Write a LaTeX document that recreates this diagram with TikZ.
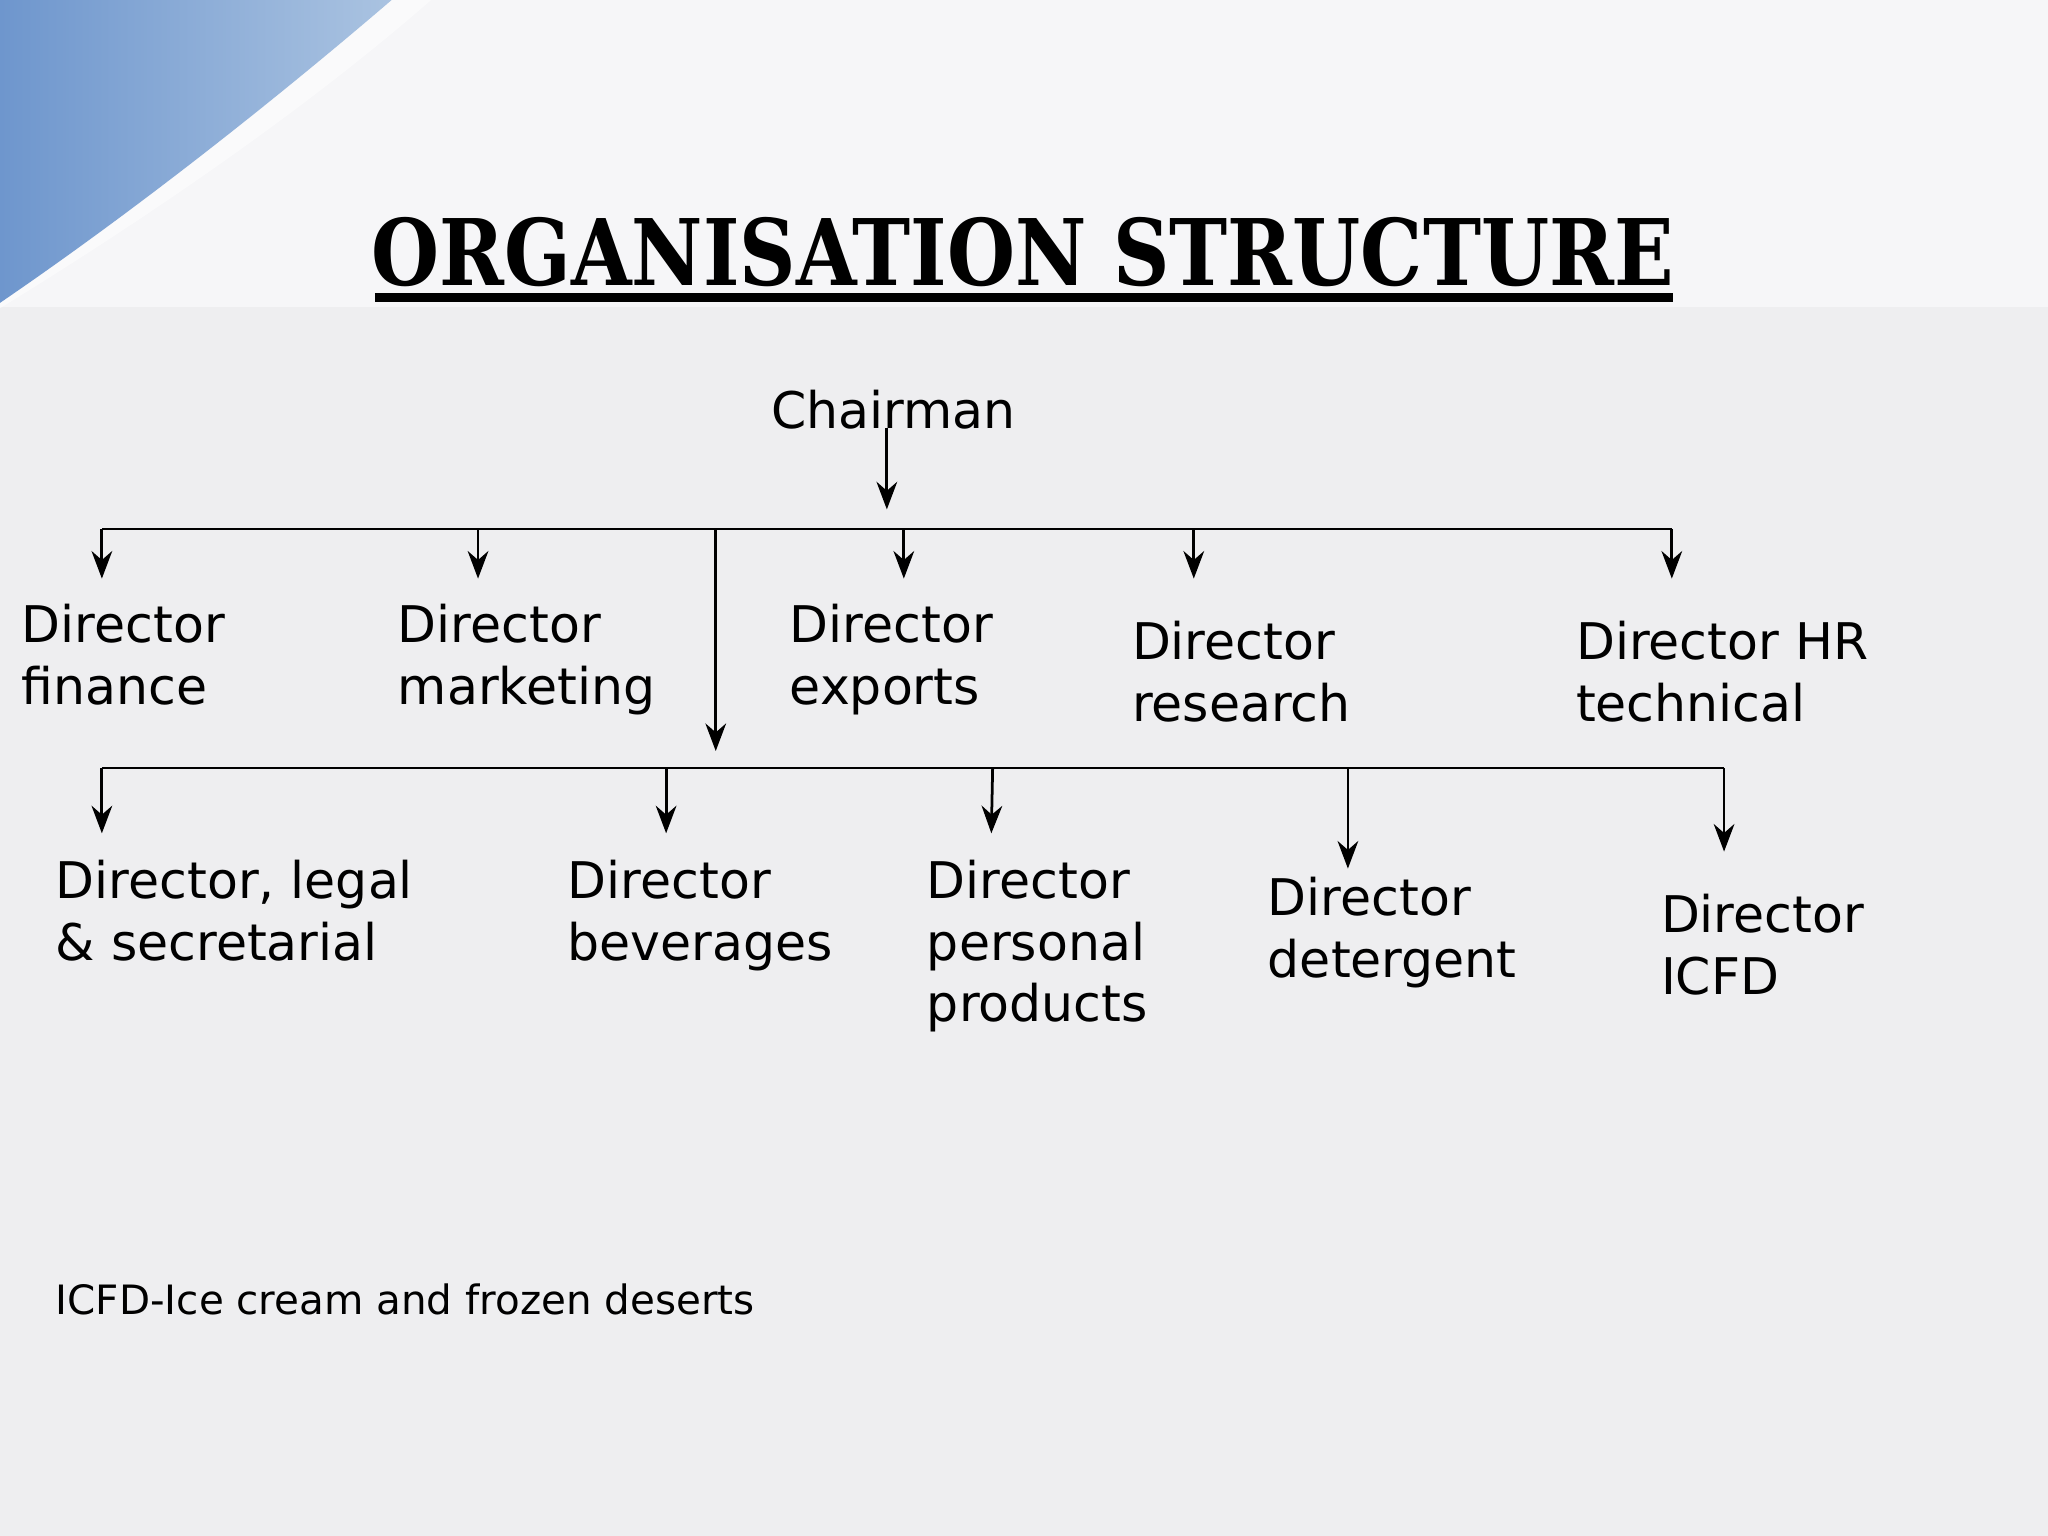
\documentclass[tikz,border=0pt]{standalone}
\usepackage{fontspec}
\setmainfont{DejaVu Sans}
\newfontfamily\titlefont{DejaVu Serif}
\usetikzlibrary{arrows.meta}
\begin{document}
\begin{tikzpicture}[x=0.01cm,y=-0.01cm,
  lbl/.style={anchor=north west,inner sep=0pt,align=left,font=\fontsize{11}{13.4}\selectfont},
  arr/.style={-{Stealth[length=6pt,width=4.5pt]},line width=0.6pt},
  ln/.style={line width=0.6pt}]
\fill[color={rgb,255:red,238;green,238;blue,240}] (0,0) rectangle (1568,1176);
\fill[color={rgb,255:red,246;green,246;blue,248}] (0,0) rectangle (1568,235);
\shade[left color={rgb,255:red,110;green,150;blue,205},right color={rgb,255:red,170;green,195;blue,225}]
  (0,0) -- (300,0) .. controls (230,60) and (120,150) .. (0,232) -- cycle;
\fill[white,opacity=0.5] (300,0) .. controls (230,60) and (120,150) .. (0,232) -- (0,236)
  .. controls (140,150) and (250,70) .. (330,0) -- cycle;
\node[font=\titlefont\bfseries\fontsize{20}{22}\selectfont,inner sep=0pt,xscale=0.85] (title) at (783,193) {ORGANISATION STRUCTURE};
\draw[line width=2pt] (287,228) -- (1281,228);
\node[font=\fontsize{11}{13.4}\selectfont,inner sep=1pt] (ch) at (684,314) {Chairman};
\coordinate (hub) at (679,405);
\draw[arr] (679,328) -- (679,390);
\draw[ln] (78,405) -- (1280,405);
\node[lbl] (fin) at (16,462) {Director\\finance};
\node[lbl] (mkt) at (304,462) {Director\\marketing};
\node[lbl] (exp) at (604,462) {Director\\exports};
\node[lbl] (res) at (866,475) {Director\\research};
\node[lbl] (hr) at (1206,475) {Director HR\\technical};
\foreach \x in {78,366,692,914,1280} \draw[arr] (\x,405) -- (\x,443);
\draw[arr] (548,405) -- (548,575);
\draw[ln] (78,588) -- (1320,588);
\node[lbl] (leg) at (42,658) {Director, legal\\\& secretarial};
\node[lbl] (bev) at (434,658) {Director\\beverages};
\node[lbl] (per) at (709,658) {Director\\personal\\products};
\node[lbl] (det) at (970,671) {Director\\detergent};
\node[lbl] (icf) at (1271,684) {Director\\ICFD};
\draw[arr] (78,588) -- (78,638);
\draw[arr] (510,588) -- (510,638);
\draw[arr] (760,588) -- (759,638);
\draw[arr] (1032,588) -- (1032,665);
\draw[arr] (1320,588) -- (1320,652);
\node[anchor=north west,inner sep=0pt,font=\fontsize{8.8}{10}\selectfont] (note) at (42,982) {ICFD-Ice cream and frozen deserts};
\end{tikzpicture}
\end{document}
